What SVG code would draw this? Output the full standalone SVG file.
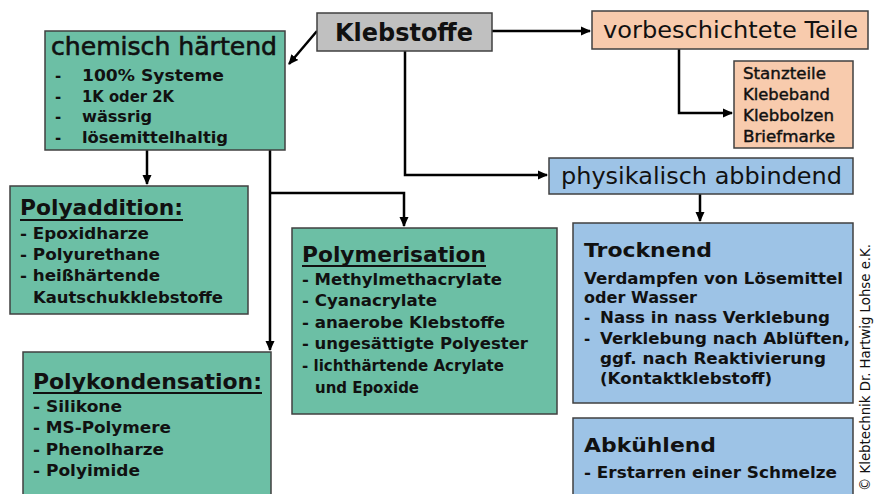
<svg xmlns="http://www.w3.org/2000/svg" width="875" height="494" viewBox="0 0 875 494">
<defs>
<marker id="arr" markerUnits="userSpaceOnUse" markerWidth="10" markerHeight="10" refX="9" refY="5" orient="auto">
<path d="M0,0.5 L10,5 L0,9.5 z" fill="#000"/>
</marker>
<style>
.box{stroke:#404040;stroke-width:1.5}
.g{fill:#6cbfa5}
.b{fill:#9dc3e6}
.p{fill:#f8cbad}
.gr{fill:#c0c0c0}
text{font-family:"DejaVu Sans","Verdana",sans-serif;fill:#111}
.bd{font-weight:bold}
.md{stroke:#111;stroke-width:0.4}
.c{fill:none;stroke:#000;stroke-width:2.5}
.u{stroke:#111;stroke-width:2}
</style>
</defs>
<rect width="875" height="494" fill="#fff"/>

<g id="connectors">
<line class="c" x1="317" y1="31" x2="289" y2="64" marker-end="url(#arr)"/>
<line class="c" x1="492" y1="31" x2="590" y2="31" marker-end="url(#arr)"/>
<polyline class="c" points="405,51 405,175 547,175" marker-end="url(#arr)"/>
<polyline class="c" points="679,49 679,113 732,113" marker-end="url(#arr)"/>
<line class="c" x1="700" y1="194" x2="700" y2="221" marker-end="url(#arr)"/>
<line class="c" x1="147" y1="150" x2="147" y2="184" marker-end="url(#arr)"/>
<line class="c" x1="270" y1="150" x2="270" y2="350" marker-end="url(#arr)"/>
<polyline class="c" points="270,193 404,193 404,226" marker-end="url(#arr)"/>
</g>

<g id="klebstoffe">
<rect class="box gr" x="317" y="13" width="175" height="38"/>
<text class="bd" x="335" y="41" font-size="24" textLength="138" lengthAdjust="spacingAndGlyphs">Klebstoffe</text>
</g>

<g id="chemisch">
<rect class="box g" x="45" y="31" width="240" height="119"/>
<text class="md" x="51" y="55" font-size="24" textLength="226" lengthAdjust="spacingAndGlyphs" style="stroke-width:0.6">chemisch härtend</text>
<g class="bd" font-size="15">
<text x="55" y="81">-</text><text x="82" y="81" textLength="142" lengthAdjust="spacingAndGlyphs">100% Systeme</text>
<text x="55" y="102">-</text><text x="82" y="102" textLength="92" lengthAdjust="spacingAndGlyphs">1K oder 2K</text>
<text x="55" y="122">-</text><text x="82" y="122" textLength="70" lengthAdjust="spacingAndGlyphs">wässrig</text>
<text x="55" y="143">-</text><text x="82" y="143" textLength="146" lengthAdjust="spacingAndGlyphs">lösemittelhaltig</text>
</g>
</g>

<g id="vorbeschichtet">
<rect class="box p" x="592" y="11" width="276" height="38"/>
<text x="603" y="38" font-size="23" textLength="255" lengthAdjust="spacingAndGlyphs">vorbeschichtete Teile</text>
</g>

<g id="teile">
<rect class="box p" x="734" y="61" width="119" height="87"/>
<g class="md" font-size="15">
<text x="743" y="79" textLength="83" lengthAdjust="spacingAndGlyphs">Stanzteile</text>
<text x="743" y="100" textLength="87" lengthAdjust="spacingAndGlyphs">Klebeband</text>
<text x="743" y="121" textLength="91" lengthAdjust="spacingAndGlyphs">Klebbolzen</text>
<text x="743" y="142" textLength="92" lengthAdjust="spacingAndGlyphs">Briefmarke</text>
</g>
</g>

<g id="physikalisch">
<rect class="box b" x="549" y="158" width="304" height="36"/>
<text x="561" y="184" font-size="23" textLength="281" lengthAdjust="spacingAndGlyphs">physikalisch abbindend</text>
</g>

<g id="polyaddition">
<rect class="box g" x="10" y="186" width="238" height="128"/>
<text class="bd" x="20" y="215" font-size="21" textLength="163" lengthAdjust="spacingAndGlyphs">Polyaddition:</text>
<line class="u" x1="20" y1="220" x2="183" y2="220"/>
<g class="bd" font-size="16">
<text x="20" y="239" textLength="129" lengthAdjust="spacingAndGlyphs">- Epoxidharze</text>
<text x="20" y="260" textLength="140" lengthAdjust="spacingAndGlyphs">- Polyurethane</text>
<text x="20" y="281" textLength="140" lengthAdjust="spacingAndGlyphs">- heißhärtende</text>
<text x="33" y="303" textLength="190" lengthAdjust="spacingAndGlyphs">Kautschukklebstoffe</text>
</g>
</g>

<g id="polymerisation">
<rect class="box g" x="292" y="228" width="265" height="186"/>
<text class="bd" x="302" y="262" font-size="21" textLength="184" lengthAdjust="spacingAndGlyphs">Polymerisation</text>
<line class="u" x1="302" y1="266" x2="486" y2="266"/>
<g class="bd" font-size="16">
<text x="302" y="285" textLength="200" lengthAdjust="spacingAndGlyphs">- Methylmethacrylate</text>
<text x="302" y="306" textLength="135" lengthAdjust="spacingAndGlyphs">- Cyanacrylate</text>
<text x="302" y="328" textLength="203" lengthAdjust="spacingAndGlyphs">- anaerobe Klebstoffe</text>
<text x="302" y="349" textLength="226" lengthAdjust="spacingAndGlyphs">- ungesättigte Polyester</text>
<text x="302" y="371" textLength="202" lengthAdjust="spacingAndGlyphs">- lichthärtende Acrylate</text>
<text x="315" y="393" textLength="104" lengthAdjust="spacingAndGlyphs">und Epoxide</text>
</g>
</g>

<g id="polykondensation">
<rect class="box g" x="23" y="352" width="248" height="145"/>
<text class="bd" x="33" y="389" font-size="21" textLength="229" lengthAdjust="spacingAndGlyphs">Polykondensation:</text>
<line class="u" x1="33" y1="393" x2="262" y2="393"/>
<g class="bd" font-size="16">
<text x="33" y="412" textLength="89" lengthAdjust="spacingAndGlyphs">- Silikone</text>
<text x="33" y="433" textLength="138" lengthAdjust="spacingAndGlyphs">- MS-Polymere</text>
<text x="33" y="455" textLength="131" lengthAdjust="spacingAndGlyphs">- Phenolharze</text>
<text x="33" y="476" textLength="107" lengthAdjust="spacingAndGlyphs">- Polyimide</text>
</g>
</g>

<g id="trocknend">
<rect class="box b" x="573" y="223" width="280" height="180"/>
<text class="bd" x="584" y="257" font-size="20" textLength="128" lengthAdjust="spacingAndGlyphs">Trocknend</text>
<g class="bd" font-size="15">
<text x="584" y="284" textLength="259" lengthAdjust="spacingAndGlyphs">Verdampfen von Lösemittel</text>
<text x="584" y="303" textLength="113" lengthAdjust="spacingAndGlyphs">oder Wasser</text>
<text x="584" y="323">-</text><text x="600" y="323" textLength="230" lengthAdjust="spacingAndGlyphs">Nass in nass Verklebung</text>
<text x="584" y="344">-</text><text x="600" y="344" textLength="250" lengthAdjust="spacingAndGlyphs">Verklebung nach Ablüften,</text>
<text x="600" y="364" textLength="226" lengthAdjust="spacingAndGlyphs">ggf. nach Reaktivierung</text>
<text x="600" y="384" textLength="172" lengthAdjust="spacingAndGlyphs">(Kontaktklebstoff)</text>
</g>
</g>

<g id="abkuehlend">
<rect class="box b" x="573" y="418" width="280" height="80"/>
<text class="bd" x="584" y="452" font-size="20" textLength="132" lengthAdjust="spacingAndGlyphs">Abkühlend</text>
<text class="bd" x="584" y="478" font-size="15" textLength="253" lengthAdjust="spacingAndGlyphs">- Erstarren einer Schmelze</text>
</g>

<g id="copyright">
<text transform="translate(870,491) rotate(-90)" font-size="14" textLength="247" lengthAdjust="spacingAndGlyphs">© Klebtechnik Dr. Hartwig Lohse e.K.</text>
</g>
</svg>
